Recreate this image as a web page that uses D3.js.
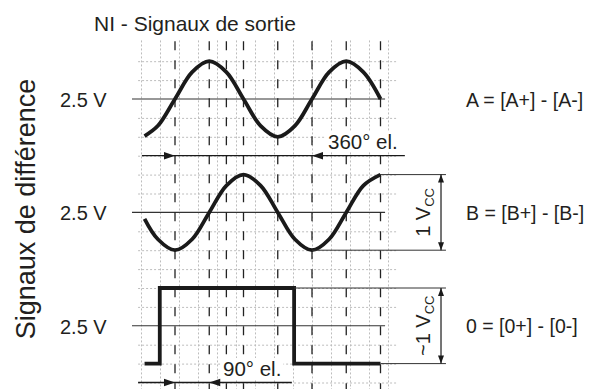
<!DOCTYPE html>
<html>
<head>
<meta charset="utf-8">
<script src="https://d3js.org/d3.v7.min.js"></script>
<style>
  body { margin: 0; background: #fff; }
  svg text { font-family: "Liberation Sans", Arial, sans-serif; fill: #231f20; }
</style>
</head>
<body>
<div id="graphic"></div>
<script>
var width = 598, height = 389;

// rows : one per output signal, level in grid units (A row = 0)
var rowNames = ["A", "B", "0"];
var rowCenters = [0, 6, 12];
var levelLabels = ["2.5 V", "2.5 V", "2.5 V"];
var rightLabels = ["A = [A+] - [A-]", "B = [B+] - [B-]", "0 = [0+] - [0-]"];

// signals : [degrees el., level -1..1]
var signalA = [[-80,-0.98],[-45,-0.71],[0,0],[45,0.71],[90,1],[135,0.71],[180,0],[225,-0.71],
               [270,-1],[315,-0.71],[360,0],[405,0.71],[450,1],[495,0.71],[540,0]];
var signalB = [[-80,-0.17],[-45,-0.71],[0,-1],[45,-0.71],[90,0],[135,0.71],[180,1],[225,0.71],
               [270,0],[315,-0.71],[360,-1],[405,-0.71],[450,0],[495,0.71],[540,1]];
var signal0 = [[-80,-1],[-40,-1],[-40,1],[313,1],[313,-1],[540,-1]];

// reference lines
var dashedDeg = [0, 90, 135, 180, 270, 360, 450, 540];
var gridDeg = [-90, -40, 10, 60, 110, 160, 210, 260, 310, 360, 410, 460, 510, 560];
var gridUnits = [-2, -1, 1, 2, 3, 4, 5, 7, 8, 9, 10, 11, 13, 14, 15];

// dimension lines : [from deg, to deg, unit]
var extLines = [[540, 712, 4], [360, 712, 8], [313, 712, 10], [540, 712, 14]];
var dimArrows = [[4, 8, "1 V", "CC"], [10, 14, "~1 V", "CC"]];
var angleArrows = [
  {from: -87, to: 604, a: 0, b: 360, unit: 3, label: "360° el.", lx: 328, ly: 149},
  {from: -97, to: 307, a: 0, b: 90, unit: 15, label: "90° el.", lx: 223, ly: 376}
];

var x = d3.scaleLinear().domain([0, 360]).range([175, 312]);
var y = d3.scaleLinear().domain([0, 12]).range([99, 325.8]);

function lvl(row, v) { return y(rowCenters[row] - 2 * v); }

var svg = d3.select("#graphic").append("svg")
  .attr("width", width)
  .attr("height", height);

// Grid
var grid = svg.append("g").attr("class", "grid")
  .attr("stroke", "#bdbdbd").attr("stroke-width", 1).attr("stroke-dasharray", "2,2");

grid.selectAll("line.h").data(gridUnits).enter().append("line")
  .attr("x1", x(-97)).attr("x2", x(583))
  .attr("y1", function(d) { return y(d) + 0.5; })
  .attr("y2", function(d) { return y(d) + 0.5; });

grid.selectAll("line.v").data(gridDeg).enter().append("line")
  .attr("x1", function(d) { return Math.round(x(d)) + 0.5; })
  .attr("x2", function(d) { return Math.round(x(d)) + 0.5; })
  .attr("y1", y(-3.1)).attr("y2", height);

// 2.5 V lines
svg.append("g").selectAll("line").data(rowCenters).enter().append("line")
  .attr("x1", x(-113)).attr("x2", x(552))
  .attr("y1", function(d) { return y(d); })
  .attr("y2", function(d) { return y(d); })
  .attr("stroke", "#333").attr("stroke-width", 1.1);

// Dashed phase lines
svg.append("g").selectAll("line").data(dashedDeg).enter().append("line")
  .attr("x1", function(d) { return x(d); })
  .attr("x2", function(d) { return x(d); })
  .attr("y1", y(-3.05)).attr("y2", height)
  .attr("stroke", "#222").attr("stroke-width", 1.3)
  .attr("stroke-dasharray", "9,10");

// Signals
var smooth = d3.line().curve(d3.curveCatmullRom.alpha(0.5));
var sharp = d3.line();

[signalA, signalB, signal0].forEach(function(sig, i) {
  svg.append("path")
    .attr("d", (i < 2 ? smooth : sharp)(sig.map(function(p) { return [x(p[0]), lvl(i, p[1])]; })))
    .attr("fill", "none")
    .attr("stroke", "#1a1a1a")
    .attr("stroke-width", 3.8)
    .attr("stroke-linejoin", "miter");
});

// Extension lines
svg.append("g").selectAll("line").data(extLines).enter().append("line")
  .attr("x1", function(d) { return x(d[0]); })
  .attr("x2", function(d) { return x(d[1]); })
  .attr("y1", function(d) { return y(d[2]); })
  .attr("y2", function(d) { return y(d[2]); })
  .attr("stroke", "#333").attr("stroke-width", 1);

function arrowHead(g, tx, ty, dir, len, half) {
  // dir: 'r','l','u','d' = direction the tip points to
  var pts;
  if (dir === "r") pts = [[tx, ty], [tx - len, ty - half], [tx - len, ty + half]];
  if (dir === "l") pts = [[tx, ty], [tx + len, ty - half], [tx + len, ty + half]];
  if (dir === "u") pts = [[tx, ty], [tx - half, ty + len], [tx + half, ty + len]];
  if (dir === "d") pts = [[tx, ty], [tx - half, ty - len], [tx + half, ty - len]];
  g.append("path").attr("d", "M" + pts.join("L") + "Z").attr("fill", "#1a1a1a");
}

// Vertical dimension arrows
var dimX = x(699);
dimArrows.forEach(function(d) {
  var g = svg.append("g");
  g.append("line")
    .attr("x1", dimX).attr("x2", dimX)
    .attr("y1", y(d[0])).attr("y2", y(d[1]))
    .attr("stroke", "#1a1a1a").attr("stroke-width", 1.2);
  arrowHead(g, dimX, y(d[0]), "u", 8, 3);
  arrowHead(g, dimX, y(d[1]), "d", 8, 3);
  var t = g.append("text")
    .attr("transform", "translate(" + (dimX - 11) + "," + ((y(d[0]) + y(d[1])) / 2) + ") rotate(-90)")
    .attr("text-anchor", "middle")
    .attr("font-size", "20px");
  t.append("tspan").text(d[2]);
  t.append("tspan").attr("font-size", "13px").attr("dy", 4).text(d[3]);
});

// Angle arrows, label knocks out the grid behind it
angleArrows.forEach(function(d) {
  var g = svg.append("g");
  var bg = g.append("rect").attr("fill", "#fff");
  var t = g.append("text")
    .attr("x", d.lx).attr("y", d.ly)
    .attr("font-size", "20.5px")
    .text(d.label);
  var bb = t.node().getBBox();
  bg.attr("x", bb.x - 2).attr("y", bb.y + 1)
    .attr("width", bb.width + 4).attr("height", bb.height - 2);
  g.append("line")
    .attr("x1", x(d.from)).attr("x2", x(d.to))
    .attr("y1", y(d.unit)).attr("y2", y(d.unit))
    .attr("stroke", "#1a1a1a").attr("stroke-width", 1.3);
  arrowHead(g, x(d.a), y(d.unit), "r", 11, 3.8);
  arrowHead(g, x(d.b), y(d.unit), "l", 11, 3.8);
});

// Level labels and signal names
svg.append("g").selectAll("text").data(levelLabels).enter().append("text")
  .attr("x", 60)
  .attr("y", function(d, i) { return y(rowCenters[i]) + 8; })
  .attr("font-size", "20px")
  .text(function(d) { return d; });

svg.append("g").selectAll("text").data(rightLabels).enter().append("text")
  .attr("x", 466)
  .attr("y", function(d, i) { return y(rowCenters[i]) + 7.5; })
  .attr("font-size", "19.5px")
  .text(function(d) { return d; });

// Title
svg.append("text")
  .attr("x", 94).attr("y", 31)
  .attr("font-size", "21px")
  .text("NI - Signaux de sortie");

// Y label
svg.append("text")
  .attr("transform", "translate(35,209) rotate(-90)")
  .attr("text-anchor", "middle")
  .attr("font-size", "27px")
  .text("Signaux de différence");
</script>
</body>
</html>
